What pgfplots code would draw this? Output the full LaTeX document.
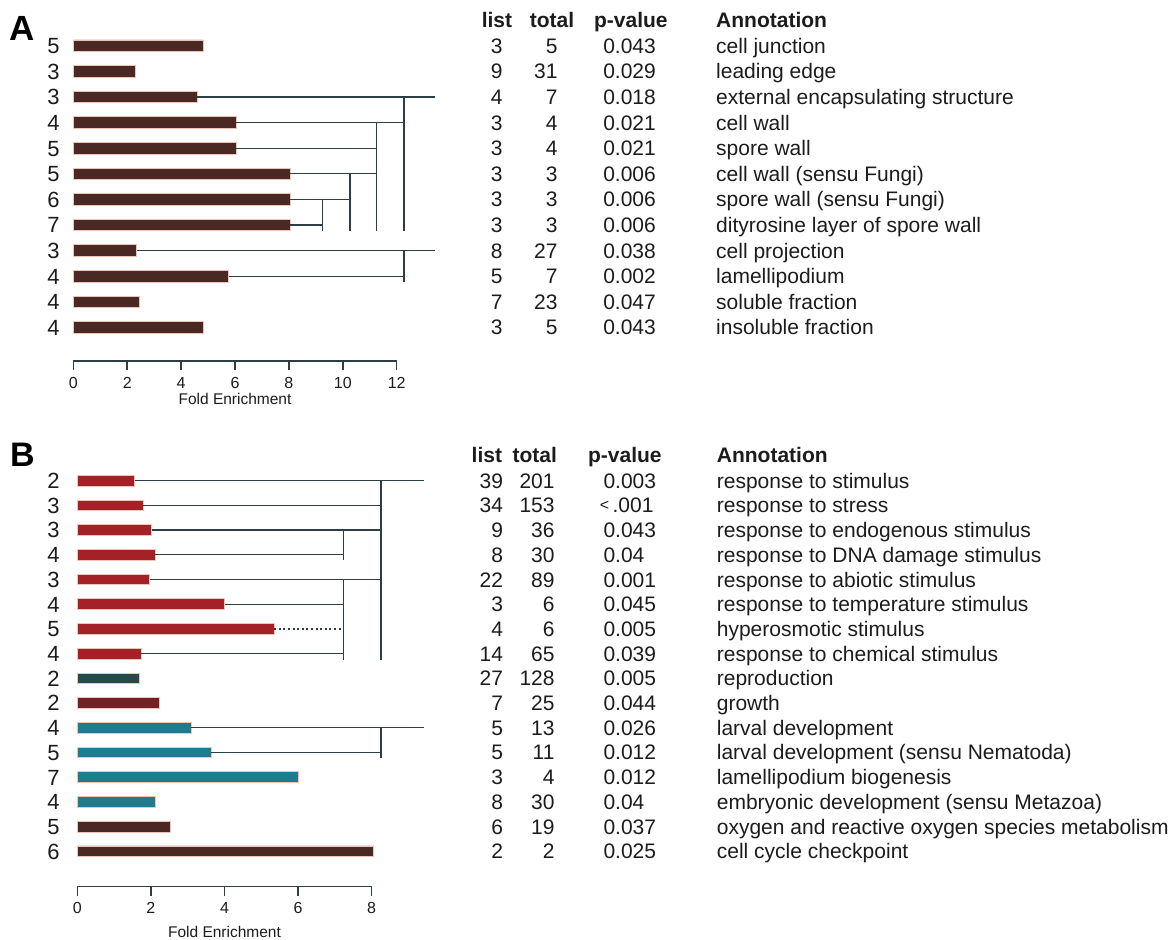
\documentclass[border=0pt]{standalone}
\usepackage{fontspec}
\setmainfont{Liberation Sans}
\usepackage{pgfplots}
\pgfplotsset{compat=1.18}
\definecolor{brownA}{RGB}{74,40,35}
\definecolor{redB}{RGB}{165,33,40}
\definecolor{dredB}{RGB}{115,33,36}
\definecolor{tealB}{RGB}{31,124,143}
\definecolor{slateB}{RGB}{40,72,74}
\definecolor{linec}{RGB}{45,62,70}
\definecolor{halo}{RGB}{238,196,180}
\definecolor{txt}{RGB}{28,28,28}
\tikzset{
  tab/.style={inner sep=0pt, font=\fontsize{10.5}{12}\selectfont, text=txt, yshift=-3.76pt},
  hdr/.style={inner sep=0pt, font=\bfseries\fontsize{10.5}{12}\selectfont, text=txt, yshift=-3.76pt},
  num/.style={inner sep=0pt, font=\fontsize{11}{12}\selectfont, text=txt, anchor=base, yshift=-3.94pt},
}
\pgfplotsset{
  panel/.style={
    scale only axis, anchor=south west, clip=false,
    axis x line*=bottom, axis y line=none,
    tick align=outside, major tick length=4.5pt,
    x axis line style={line width=0.75pt, draw=linec},
    xtick style={line width=0.75pt, draw=linec},
    /pgf/number format/assume math mode=true,
    xticklabel style={font=\fontsize{8}{9}\selectfont, text=txt, anchor=center, inner sep=0pt, yshift=-6.25pt},
    xlabel style={font=\fontsize{7.75}{9}\selectfont, text=txt, at={(axis description cs:0.5,0)}, anchor=center, inner sep=0pt},
    ytick=\empty,
  },
  dline/.style={no markers, line width=0.65pt, draw=linec},
  bars/.style={xbar, bar shift=0pt, draw=halo, line width=0.4pt},
}
% panel A row: y, n, list, total, p, annotation
\newcommand\tabA[6]{%
  \node[num] at (axis cs:-0.735,#1) {#2};
  \node[tab, anchor=base] at (axis cs:15.71,#1) {#3};
  \node[tab, anchor=base east] at (axis cs:17.98,#1) {#4};
  \node[tab, anchor=base west] at (axis cs:19.65,#1) {#5};
  \node[tab, anchor=base west] at (axis cs:23.84,#1) {#6};
}
\newcommand\tabB[6]{%
  \node[num] at (axis cs:-0.65,#1) {#2};
  \node[tab, anchor=base east] at (axis cs:11.58,#1) {#3};
  \node[tab, anchor=base east] at (axis cs:12.98,#1) {#4};
  \node[tab, anchor=base west] at (axis cs:14.29,#1) {#5};
  \node[tab, anchor=base west] at (axis cs:17.37,#1) {#6};
}
\begin{document}
\begin{tikzpicture}
\useasboundingbox (0pt,0pt) rectangle (586pt,469.5pt);
% ---------------- Panel A ----------------
\begin{axis}[panel,
  at={(36.65pt,289pt)}, width=161.7pt, height=164.03pt,
  xmin=0, xmax=12, ymin=-0.31, ymax=12.5,
  xtick={0,2,4,6,8,10,12},
  xlabel={Fold Enrichment}, xlabel style={yshift=-18.8pt},
]
\addplot[bars, fill=brownA, bar width=0.45] coordinates {
  (4.82,12) (2.31,11) (4.60,10) (6.04,9) (6.04,8) (8.04,7)
  (8.04,6) (8.04,5) (2.35,4) (5.76,3) (2.44,2) (4.82,1)};
% dendrogram
\addplot[dline] coordinates {(4.60,10) (13.42,10)};
\addplot[dline] coordinates {(12.27,10) (12.27,4.78)};
\addplot[dline] coordinates {(6.04,9) (12.27,9)};
\addplot[dline] coordinates {(11.26,9) (11.26,4.78)};
\addplot[dline] coordinates {(6.04,8) (11.26,8)};
\addplot[dline] coordinates {(8.04,7) (11.26,7)};
\addplot[dline] coordinates {(10.27,7) (10.27,4.78)};
\addplot[dline] coordinates {(8.04,6) (10.27,6)};
\addplot[dline] coordinates {(9.25,6) (9.25,4.78)};
\addplot[dline] coordinates {(8.04,5) (9.25,5)};
\addplot[dline] coordinates {(2.35,4) (13.42,4)};
\addplot[dline] coordinates {(12.27,4) (12.27,2.78)};
\addplot[dline] coordinates {(5.76,3) (12.27,3)};
% label and header
\node[inner sep=0pt, font=\bfseries\fontsize{17.5}{20}\selectfont, text=black, anchor=base, yshift=-6.27pt] at (axis cs:-1.885,12.71) {A};
\node[hdr, anchor=base] at (axis cs:15.72,13.0) {list};
\node[hdr, anchor=base] at (axis cs:17.76,13.0) {total};
\node[hdr, anchor=base] at (axis cs:20.69,13.0) {p-value};
\node[hdr, anchor=base west] at (axis cs:23.84,13.0) {Annotation};
\tabA{12}{5}{3}{5}{0.043}{cell junction}
\tabA{11}{3}{9}{31}{0.029}{leading edge}
\tabA{10}{3}{4}{7}{0.018}{external encapsulating structure}
\tabA{9}{4}{3}{4}{0.021}{cell wall}
\tabA{8}{5}{3}{4}{0.021}{spore wall}
\tabA{7}{5}{3}{3}{0.006}{cell wall (sensu Fungi)}
\tabA{6}{6}{3}{3}{0.006}{spore wall (sensu Fungi)}
\tabA{5}{7}{3}{3}{0.006}{dityrosine layer of spore wall}
\tabA{4}{3}{8}{27}{0.038}{cell projection}
\tabA{3}{4}{5}{7}{0.002}{lamellipodium}
\tabA{2}{4}{7}{23}{0.047}{soluble fraction}
\tabA{1}{4}{3}{5}{0.043}{insoluble fraction}
\end{axis}
% ---------------- Panel B ----------------
\begin{axis}[panel,
  at={(38.65pt,26.15pt)}, width=147.2pt, height=209.2pt,
  xmin=0, xmax=8, ymin=-0.433, ymax=16.5,
  xtick={0,2,4,6,8},
  xlabel={Fold Enrichment}, xlabel style={yshift=-22.5pt},
]
\addplot[bars, fill=redB, bar width=0.43] coordinates {
  (1.56,16) (1.79,15) (2.02,14) (2.12,13) (1.97,12) (4.01,11) (5.35,10) (1.73,9)};
\addplot[bars, fill=slateB, bar width=0.43] coordinates {(1.68,8)};
\addplot[bars, fill=dredB, bar width=0.43] coordinates {(2.24,7)};
\addplot[bars, fill=tealB, bar width=0.43] coordinates {(3.09,6) (3.64,5) (6.01,4) (2.12,3)};
\addplot[bars, fill=brownA, bar width=0.43] coordinates {(2.54,2) (8.06,1)};
% dendrogram
\addplot[dline] coordinates {(1.56,16) (9.43,16)};
\addplot[dline] coordinates {(8.25,16) (8.25,8.745)};
\addplot[dline] coordinates {(1.79,15) (8.25,15)};
\addplot[dline] coordinates {(2.02,14) (8.25,14)};
\addplot[dline] coordinates {(7.24,14) (7.24,12.8)};
\addplot[dline] coordinates {(2.12,13) (7.24,13)};
\addplot[dline] coordinates {(1.97,12) (8.25,12)};
\addplot[dline] coordinates {(7.24,12) (7.24,8.745)};
\addplot[dline] coordinates {(4.01,11) (7.24,11)};
\addplot[dline, dash pattern=on 1pt off 1.3pt] coordinates {(5.35,10) (7.24,10)};
\addplot[dline] coordinates {(1.73,9) (7.24,9)};
\addplot[dline] coordinates {(3.09,6) (9.43,6)};
\addplot[dline] coordinates {(8.25,6) (8.25,4.77)};
\addplot[dline] coordinates {(3.64,5) (8.25,5)};
% label and header
\node[inner sep=0pt, font=\bfseries\fontsize{17}{20}\selectfont, text=black, anchor=base, yshift=-6.09pt] at (axis cs:-1.49,17.08) {B};
\node[hdr, anchor=base] at (axis cs:11.13,17.04) {list};
\node[hdr, anchor=base] at (axis cs:12.43,17.04) {total};
\node[hdr, anchor=base] at (axis cs:14.88,17.04) {p-value};
\node[hdr, anchor=base west] at (axis cs:17.37,17.04) {Annotation};
\tabB{16}{2}{39}{201}{0.003}{response to stimulus}
\tabB{15}{3}{34}{153}{}{response to stress}
\node[tab, anchor=base east] at (axis cs:15.67,15) {\raisebox{1pt}{\fontsize{8}{9}\selectfont<}\,.001};
\tabB{14}{3}{9}{36}{0.043}{response to endogenous stimulus}
\tabB{13}{4}{8}{30}{0.04}{response to DNA damage stimulus}
\tabB{12}{3}{22}{89}{0.001}{response to abiotic stimulus}
\tabB{11}{4}{3}{6}{0.045}{response to temperature stimulus}
\tabB{10}{5}{4}{6}{0.005}{hyperosmotic stimulus}
\tabB{9}{4}{14}{65}{0.039}{response to chemical stimulus}
\tabB{8}{2}{27}{128}{0.005}{reproduction}
\tabB{7}{2}{7}{25}{0.044}{growth}
\tabB{6}{4}{5}{13}{0.026}{larval development}
\tabB{5}{5}{5}{11}{0.012}{larval development (sensu Nematoda)}
\tabB{4}{7}{3}{4}{0.012}{lamellipodium biogenesis}
\tabB{3}{4}{8}{30}{0.04}{embryonic development (sensu Metazoa)}
\tabB{2}{5}{6}{19}{0.037}{oxygen and reactive oxygen species metabolism}
\tabB{1}{6}{2}{2}{0.025}{cell cycle checkpoint}
\end{axis}
\end{tikzpicture}
\end{document}
